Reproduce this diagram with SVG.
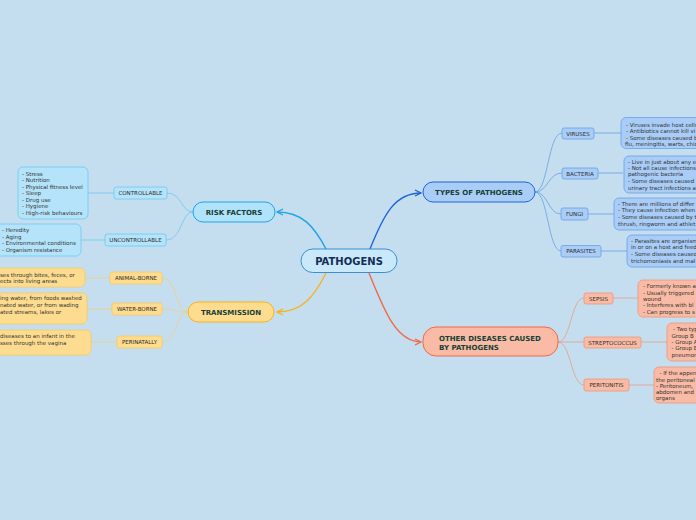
<svg xmlns="http://www.w3.org/2000/svg" width="696" height="520" viewBox="0 0 696 520">
<defs>
<style>
.ff{font-family:"DejaVu Sans","Liberation Sans",sans-serif}
.tmain{font-family:"DejaVu Sans","Liberation Sans",sans-serif;font-size:10px;font-weight:bold;fill:#142d55;text-anchor:middle}
.ttl{font-family:"DejaVu Sans","Liberation Sans",sans-serif;font-size:7px;font-weight:bold;fill:#173f35}
.tsub{font-family:"DejaVu Sans","Liberation Sans",sans-serif;font-size:5.5px;fill:#2b2b2b;text-anchor:middle}
.tleaf{font-family:"DejaVu Sans","Liberation Sans",sans-serif;font-size:5.5px;fill:#333}
.c{fill:none}
.rk{fill:#b5e3fa;stroke:#6cc9f2;stroke-width:0.8}
.tr{fill:#fddc8f;stroke:#f6c960;stroke-width:0.8}
.ty{fill:#a9cdf7;stroke:#6a9fe6;stroke-width:0.8}
.ot{fill:#f9bba5;stroke:#ee9478;stroke-width:0.8}
</style>
<marker id="aRk" viewBox="0 0 8 8" refX="7" refY="4" markerWidth="8" markerHeight="8" markerUnits="userSpaceOnUse" orient="auto"><path d="M1,1 L7,4 L1,7" fill="none" stroke="#1fa4e6" stroke-width="1.3"/></marker>
<marker id="aTr" viewBox="0 0 8 8" refX="7" refY="4" markerWidth="8" markerHeight="8" markerUnits="userSpaceOnUse" orient="auto"><path d="M1,1 L7,4 L1,7" fill="none" stroke="#f5b41e" stroke-width="1.3"/></marker>
<marker id="aTy" viewBox="0 0 8 8" refX="7" refY="4" markerWidth="8" markerHeight="8" markerUnits="userSpaceOnUse" orient="auto"><path d="M1,1 L7,4 L1,7" fill="none" stroke="#1f65d6" stroke-width="1.3"/></marker>
<marker id="aOt" viewBox="0 0 8 8" refX="7" refY="4" markerWidth="8" markerHeight="8" markerUnits="userSpaceOnUse" orient="auto"><path d="M1,1 L7,4 L1,7" fill="none" stroke="#f06a45" stroke-width="1.3"/></marker>
</defs>
<rect width="696" height="520" fill="#c4def0"/>

<g id="connectors" fill="none">
<path d="M370,249 C384,214 395,193 421,193" stroke="#1f65d6" stroke-width="1.4" marker-end="url(#aTy)"/>
<path d="M369,273 C384,310 396,342 421,342" stroke="#f06a45" stroke-width="1.4" marker-end="url(#aOt)"/>
<path d="M326,249 C314,226 302,212 277,212" stroke="#1fa4e6" stroke-width="1.4" marker-end="url(#aRk)"/>
<path d="M326,273 C314,297 302,312 277,312" stroke="#f5b41e" stroke-width="1.4" marker-end="url(#aTr)"/>
<g stroke="#6cc8f0" stroke-width="0.8">
<path d="M193,212 C181,212 182,193 167,193"/>
<path d="M193,212 C181,212 182,240 166,240"/>
<path d="M114,193 L88,193"/>
<path d="M105,240 L81,240"/>
</g>
<g stroke="#f1cf78" stroke-width="0.8">
<path d="M188,312 C176,312 177,278 162,278"/>
<path d="M188,312 C176,312 176,309 162,309"/>
<path d="M188,312 C176,312 177,342 162,342"/>
<path d="M110,278 L85,278"/>
<path d="M112,309 L87,309"/>
<path d="M117,342 L91,342"/>
</g>
<g stroke="#6a9fe6" stroke-width="0.8">
<path d="M535,192 C548,192 548,133 562,133"/>
<path d="M535,192 C548,192 548,173 562,173"/>
<path d="M535,192 C548,192 548,214 561,214"/>
<path d="M535,192 C548,192 548,251 561,251"/>
<path d="M594,133 L622,133"/>
<path d="M598,173 L623,173"/>
<path d="M588,214 L614,214"/>
<path d="M601,251 L627,251"/>
</g>
<g stroke="#e89c86" stroke-width="0.8">
<path d="M558,342 C571,342 571,298 584,298"/>
<path d="M558,342 L584,342"/>
<path d="M558,342 C571,342 571,385 584,385"/>
<path d="M613,298 L638,298"/>
<path d="M641,342 L667,342"/>
<path d="M629,385 L654,385"/>
</g>
</g>

<g id="pathogens">
<rect x="301" y="249" width="96" height="23.5" rx="11.7" fill="#c9e9fb" stroke="#3b8fd0" stroke-width="1"/>
<text class="tmain" x="349" y="264.5">PATHOGENS</text>
</g>

<g id="types-of-pathogens">
<rect x="423" y="182" width="112" height="20" rx="10" fill="#a9cdf7" stroke="#1f65d6" stroke-width="1"/>
<text class="ttl" x="479" y="194.5" text-anchor="middle">TYPES OF PATHOGENS</text>
</g>

<g id="other-diseases">
<rect x="423" y="327" width="135" height="29" rx="13" fill="#f9bba5" stroke="#f06a45" stroke-width="1"/>
<text class="ttl" x="439" y="340.5">OTHER DISEASES CAUSED</text>
<text class="ttl" x="439" y="349.5">BY PATHOGENS</text>
</g>

<g id="risk-factors">
<rect x="193" y="202" width="82" height="20" rx="10" fill="#b0e2fa" stroke="#1fa4e6" stroke-width="1"/>
<text class="ttl" x="234" y="214.5" text-anchor="middle">RISK FACTORS</text>
</g>

<g id="transmission">
<rect x="188" y="302" width="86" height="20" rx="10" fill="#fddc8f" stroke="#f5b41e" stroke-width="1"/>
<text class="ttl" x="231" y="314.5" text-anchor="middle">TRANSMISSION</text>
</g>

<g id="controllable">
<rect class="rk" x="114" y="187" width="53" height="12" rx="2"/>
<text class="tsub" x="140.5" y="195">CONTROLLABLE</text>
</g>
<g id="controllable-list">
<rect class="rk" x="18" y="167" width="70" height="52" rx="5"/>
<text class="tleaf" x="22" y="176">- Stress</text>
<text class="tleaf" x="22" y="182.4">- Nutrition</text>
<text class="tleaf" x="22" y="188.8">- Physical fitness level</text>
<text class="tleaf" x="22" y="195.3">- Sleep</text>
<text class="tleaf" x="22" y="201.7">- Drug use</text>
<text class="tleaf" x="22" y="208.1">- Hygiene</text>
<text class="tleaf" x="22" y="214.6">- High-risk behaviours</text>
</g>

<g id="uncontrollable">
<rect class="rk" x="105" y="234" width="61" height="12" rx="2"/>
<text class="tsub" x="135.5" y="242">UNCONTROLLABLE</text>
</g>
<g id="uncontrollable-list">
<rect class="rk" x="-5" y="224" width="86" height="32" rx="5"/>
<text class="tleaf" x="2" y="232">- Heredity</text>
<text class="tleaf" x="2" y="238.5">- Aging</text>
<text class="tleaf" x="2" y="245">- Environmental conditions</text>
<text class="tleaf" x="2" y="251.5">- Organism resistance</text>
</g>

<g id="animal-borne">
<rect class="tr" x="110" y="272" width="52" height="12" rx="2"/>
<text class="tsub" x="136" y="280">ANIMAL-BORNE</text>
</g>
<g id="animal-borne-text">
<rect class="tr" x="-5" y="268" width="90" height="19" rx="5"/>
<text class="tleaf" x="0" y="277.3">ses through bites, feces, or</text>
<text class="tleaf" x="0" y="283.3">ects into living areas</text>
</g>

<g id="water-borne">
<rect class="tr" x="112" y="303" width="50" height="12" rx="2"/>
<text class="tsub" x="137" y="311">WATER-BORNE</text>
</g>
<g id="water-borne-text">
<rect class="tr" x="-5" y="293" width="92" height="31" rx="5"/>
<text class="tleaf" x="0" y="300">ing water, from foods washed</text>
<text class="tleaf" x="0" y="307">nated water, or from wading</text>
<text class="tleaf" x="0" y="314">ated streams, lakes or</text>
</g>

<g id="perinatally">
<rect class="tr" x="117" y="336" width="45" height="12" rx="2"/>
<text class="tsub" x="139.5" y="344">PERINATALLY</text>
</g>
<g id="perinatally-text">
<rect class="tr" x="-5" y="330" width="96" height="25" rx="5"/>
<text class="tleaf" x="0" y="338">diseases to an infant in the</text>
<text class="tleaf" x="0" y="344.5">sses through the vagina</text>
</g>

<g id="viruses">
<rect class="ty" x="562" y="128" width="32" height="11" rx="2"/>
<text class="tsub" x="578" y="135.5">VIRUSES</text>
</g>
<g id="viruses-text">
<rect class="ty" x="621" y="117.5" width="90" height="31" rx="5"/>
<text class="tleaf" x="626" y="127">- Viruses invade host cells</text>
<text class="tleaf" x="626" y="133.3">- Antibiotics cannot kill vi</text>
<text class="tleaf" x="626" y="139.6">- Some diseases caused b</text>
<text class="tleaf" x="625" y="145.9">flu, meningitis, warts, chic</text>
</g>

<g id="bacteria">
<rect class="ty" x="562" y="168" width="36" height="11" rx="2"/>
<text class="tsub" x="580" y="175.5">BACTERIA</text>
</g>
<g id="bacteria-text">
<rect class="ty" x="624" y="156" width="90" height="37" rx="5"/>
<text class="tleaf" x="628" y="163.5">- Live in just about any e</text>
<text class="tleaf" x="628" y="169.8">- Not all cause infections</text>
<text class="tleaf" x="628" y="176">pathogenic bacteria</text>
<text class="tleaf" x="628" y="183.3">- Some diseases caused</text>
<text class="tleaf" x="628" y="189.6">urinary tract infections a</text>
</g>

<g id="fungi">
<rect class="ty" x="561" y="208" width="27" height="12" rx="2"/>
<text class="tsub" x="574.5" y="216">FUNGI</text>
</g>
<g id="fungi-text">
<rect class="ty" x="614" y="198" width="90" height="32" rx="5"/>
<text class="tleaf" x="618" y="206">- There are millions of differ</text>
<text class="tleaf" x="618" y="212.4">- They cause infection when</text>
<text class="tleaf" x="618" y="219.3">- Some diseases caused by t</text>
<text class="tleaf" x="618" y="225.7">thrush, ringworm and athlet</text>
</g>

<g id="parasites">
<rect class="ty" x="561" y="245.5" width="40" height="11.5" rx="2"/>
<text class="tsub" x="581" y="253.2">PARASITES</text>
</g>
<g id="parasites-text">
<rect class="ty" x="627" y="235" width="90" height="32" rx="5"/>
<text class="tleaf" x="631" y="243">- Parasites are organism</text>
<text class="tleaf" x="631" y="249.4">in or on a host and feed</text>
<text class="tleaf" x="631" y="256.2">- Some diseases caused</text>
<text class="tleaf" x="631" y="262.6">trichomoniasis and mal</text>
</g>

<g id="sepsis">
<rect class="ot" x="584" y="293" width="29" height="11" rx="2"/>
<text class="tsub" x="598.5" y="300.5">SEPSIS</text>
</g>
<g id="sepsis-text">
<rect class="ot" x="638" y="280" width="70" height="37" rx="5"/>
<text class="tleaf" x="643" y="288">- Formerly known a</text>
<text class="tleaf" x="643" y="294.6">- Usually triggered</text>
<text class="tleaf" x="643" y="300.6">wound</text>
<text class="tleaf" x="643" y="307.4">- Interferes with bl</text>
<text class="tleaf" x="643" y="313.6">- Can progress to s</text>
</g>

<g id="streptococcus">
<rect class="ot" x="584" y="337" width="57" height="11" rx="2"/>
<text class="tsub" x="612.5" y="344.5">STREPTOCOCCUS</text>
</g>
<g id="streptococcus-text">
<rect class="ot" x="667" y="323" width="40" height="38" rx="5"/>
<text class="tleaf" x="673" y="330.5">- Two typ</text>
<text class="tleaf" x="671.5" y="337.5">Group B</text>
<text class="tleaf" x="671.5" y="343.8">- Group A</text>
<text class="tleaf" x="671.5" y="350">- Group B</text>
<text class="tleaf" x="671.5" y="356.5">pneumon</text>
</g>

<g id="peritonitis">
<rect class="ot" x="584" y="379" width="45" height="12" rx="2"/>
<text class="tsub" x="606.5" y="387">PERITONITIS</text>
</g>
<g id="peritonitis-text">
<rect class="ot" x="654" y="367" width="60" height="36" rx="5"/>
<text class="tleaf" x="659.5" y="375.3">- If the appen</text>
<text class="tleaf" x="656" y="381.5">the peritoneal</text>
<text class="tleaf" x="656" y="387.8">- Peritoneum,</text>
<text class="tleaf" x="656" y="394">abdomen and</text>
<text class="tleaf" x="656" y="400.3">organs</text>
</g>
</svg>
